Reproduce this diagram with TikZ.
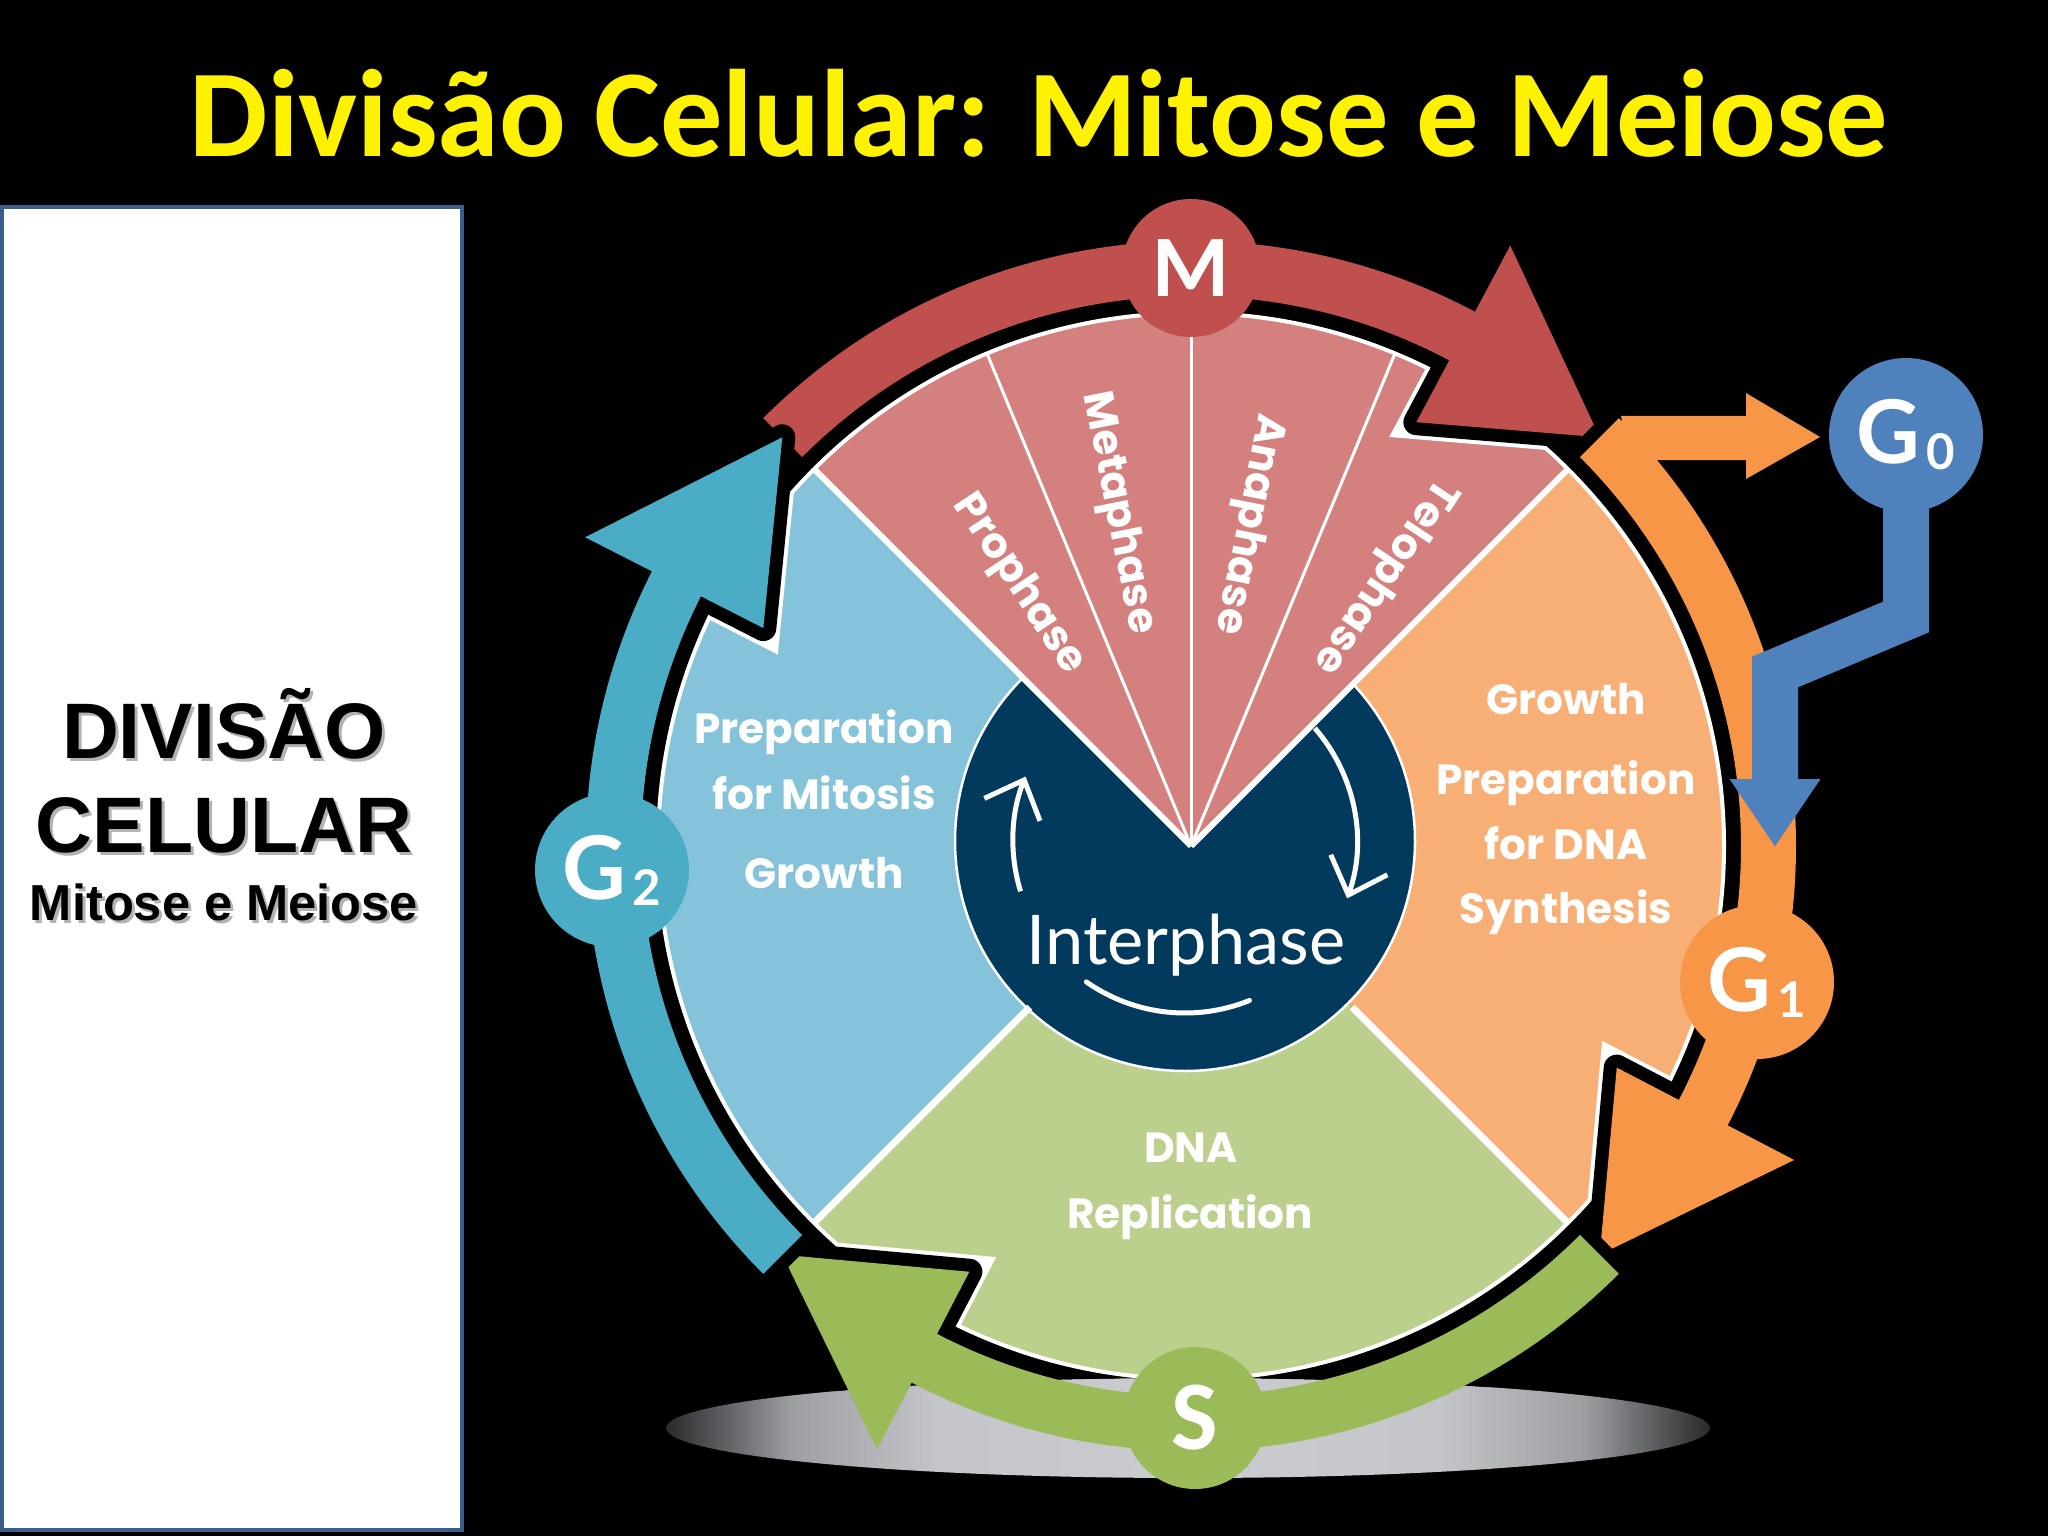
\documentclass[tikz,border=0pt]{standalone}
\usepackage{fontspec}
\usetikzlibrary{arrows.meta}
\newfontfamily\titlefont{Carlito}
\newfontfamily\boxfont{Liberation Sans}
\newfontfamily\wheelfont{Poppins}
\newfontfamily\latofont{Lato}

\definecolor{mred}{HTML}{C0504D}
\definecolor{mpink}{HTML}{D4807E}
\definecolor{gtwoblue}{HTML}{4BACC6}
\definecolor{gtwolight}{HTML}{84C3DA}
\definecolor{goneorange}{HTML}{F79646}
\definecolor{gonelight}{HTML}{F8AF76}
\definecolor{sgreen}{HTML}{9BBB59}
\definecolor{slight}{HTML}{BCD08E}
\definecolor{internavy}{HTML}{023A5E}
\definecolor{gzeroblue}{HTML}{4F81BD}
\definecolor{panelline}{HTML}{3A5F8B}
\definecolor{floorgray}{HTML}{CACCD0}
\definecolor{floormid}{HTML}{9C9EA2}
\definecolor{floordark}{HTML}{2A2A2C}

\pgfdeclarehorizontalshading{floorshade}{100bp}{color(0bp)=(black); color(25bp)=(floordark); color(31bp)=(floormid); color(38bp)=(floorgray!85!floormid); color(50bp)=(floorgray); color(62bp)=(floorgray!85!floormid); color(69bp)=(floormid); color(75bp)=(floordark); color(100bp)=(black)}

% band + head of one stage arrow: start angle, head base angle, tip angle
\newcommand{\phasearrow}[3]{(#1:605) arc[start angle=#1,end angle=#2,radius=605] -- (#2:680) -- (#3:578) -- (#2:480) -- (#2:550) arc[start angle=#2,end angle=#1,radius=550] -- cycle}
\newcommand{\gzeroarm}{(430,430) -- (555,430) -- (555,453) -- (629,409) -- (555,367) -- (555,386) -- (440,386) -- cycle}
\newcommand{\gsub}[1]{\kern0.6mm\raisebox{-0.6mm}{\fontsize{14}{14}\selectfont #1}}

\tikzset{
  stagecircle/.style={circle, inner sep=0pt, minimum size=15.4mm, text=white,
    font=\latofont\bfseries\fontsize{25}{25}\selectfont},
  wheeltext/.style={anchor=base, text=white, font=\wheelfont\bfseries\fontsize{12}{14}\selectfont},
  phasetext/.style={text=white, font=\wheelfont\bfseries\fontsize{12}{14}\selectfont},
  cyclearc/.style={white, line width=0.5mm, -{Straight Barb[length=3.2mm,width=6mm]}},
}

\begin{document}
\begin{tikzpicture}[x=0.1mm, y=0.1mm]
  \useasboundingbox (0,0) rectangle (2048,1536);
  \fill[black] (0,0) rectangle (2048,1536);

  \node[anchor=base, text=yellow, font=\titlefont\bfseries\fontsize{35.4}{40}\selectfont] (title) at (1039,1379) {Divisão Celular: Mitose e Meiose};

  % left panel
  \draw[panelline, fill=white, line width=0.35mm] (2,6) rectangle (462,1329);
  \foreach \txt/\yy/\sz [count=\i] in {DIVISÃO/778/22.4, CELULAR/684/22.4, Mitose e Meiose/616/14.4}{%
    \node[anchor=base, text=gray!60, font=\boxfont\bfseries\fontsize{\sz}{\sz}\selectfont] (boxshadow\i) at (227,\yy-3) {\txt};
    \node[anchor=base, text=black, font=\boxfont\bfseries\fontsize{\sz}{\sz}\selectfont] (boxtxt\i) at (224,\yy) {\txt};
  }

  % floor shadow
  \shade[shading=floorshade] (1188,108) ellipse[x radius=522, y radius=50];

  \begin{scope}[shift={(1191,690)}]
    \fill[gtwolight] (0,0) -- (135:533) arc[start angle=135,end angle=225,radius=533] -- cycle;
    \fill[slight] (0,0) -- (225:533) arc[start angle=225,end angle=315,radius=533] -- cycle;
    \fill[gonelight] (0,0) -- (-45:533) arc[start angle=-45,end angle=45,radius=533] -- cycle;
    \node[circle, fill=internavy, draw=white, line width=0.25mm, minimum size=46mm, inner sep=0pt] (inter) at (-6,5) {};
    \fill[mpink] (0,0) -- (45:533) arc[start angle=45,end angle=135,radius=533] -- cycle;
    \foreach \a in {67.5,90,112.5} \draw[white, line width=0.3mm] (0,0) -- (\a:533);
    \foreach \a in {45,135} \draw[white, line width=0.6mm] (0,0) -- (\a:533);
    \foreach \a in {225,315} \draw[white, line width=0.7mm] (\a:228) -- (\a:533);
    \draw[white, line width=0.4mm] (0,0) circle[radius=533];

    \foreach \nm/\a/\r/\rot in {Prophase/123.5/313/-56.25, Metaphase/102.5/341/-78.75, Anaphase/80/327/-101.25, Telophase/54.5/332/-123.75}
      \node[phasetext, rotate=\rot] (\nm) at (\a:\r) {\nm};

    \node[wheeltext] (gtwoa) at (-367,103) {Preparation};
    \node[wheeltext] (gtwob) at (-367,37) {for Mitosis};
    \node[wheeltext] (gtwoc) at (-367,-42) {Growth};
    \node[wheeltext] (gonea) at (375,132) {Growth};
    \node[wheeltext] (goneb) at (375,52) {Preparation};
    \node[wheeltext] (gonec) at (375,-13) {for DNA};
    \node[wheeltext] (goned) at (375,-77) {Synthesis};
    \node[wheeltext] (sa) at (0,-316) {DNA};
    \node[wheeltext] (sb) at (-1,-382) {Replication};

    \node[anchor=base, text=white, font=\latofont\fontsize{19.5}{20}\selectfont] (intertext) at (-5,-118) {Interphase};
    \draw[cyclearc] (inter.center) ++(197:172) arc[start angle=197,end angle=158,radius=172];
    \draw[cyclearc] (inter.center) ++(41:172) arc[start angle=41,end angle=-19.5,radius=172];
    \draw[white, line width=0.5mm, line cap=round] (inter.center) ++(235:172) arc[start angle=235,end angle=292,radius=172];

    % white rims where the heads cut into the wheel
    \begin{scope}
      \clip (0,0) circle[radius=533];
      \foreach \ts/\tb/\tt in {135/62/45, 45/-27.5/-45, 315/242.5/225, 225/153/135}
        \draw[white, line width=3.4mm] \phasearrow{\ts}{\tb}{\tt};
    \end{scope}

    \foreach \ts/\tb/\tt/\col/\extra in {135/62/45/mred/{}, 45/-27.5/-45/goneorange/{\gzeroarm}, 315/242.5/225/sgreen/{}, 225/153/135/gtwoblue/{}}{%
      \begin{scope}[even odd rule]
        \clip (-1191,-690) rectangle (857,846) (-3,-582) ellipse[x radius=522, y radius=50];
        \draw[black, line width=2.6mm, line join=round] \phasearrow{\ts}{\tb}{\tt} \extra;
      \end{scope}
      \fill[\col] \phasearrow{\ts}{\tb}{\tt} \extra;
    }

    \node[stagecircle, fill=mred, minimum size=13.8mm, font=\titlefont\bfseries\fontsize{25}{25}\selectfont] (M) at (0,578) {M};
    \node[stagecircle, fill=sgreen, minimum size=14.2mm, font=\titlefont\bfseries\fontsize{28}{28}\selectfont] (S) at (4,-572) {S};
    \node[stagecircle, fill=gtwoblue] (G2) at (-579,-24) {G\gsub{2}};
    \node[stagecircle, fill=goneorange] (G1) at (566,-136) {G\gsub{1}};
    \node[stagecircle, fill=gzeroblue] (G0) at (715,411) {G\gsub{0}};

    \coordinate (G1in) at (584,-1);
    \draw[gzeroblue, line width=4.6mm, line join=miter, -{Triangle[width=8.6mm,length=6.8mm]}] ([yshift=1mm]G0.south) -- (715,229) -- (584,174) -- (G1in);
  \end{scope}
\end{tikzpicture}
\end{document}
